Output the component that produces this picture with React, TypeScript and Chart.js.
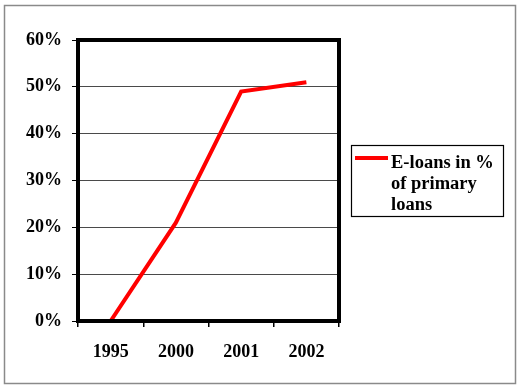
import React, { useEffect, useRef } from "react";
import { Chart, registerables } from "chart.js";

Chart.register(...registerables);

const categories: string[] = ["1995", "2000", "2001", "2002"];
const eLoans: number[] = [0, 21, 49, 51];
const seriesLabel = "E-loans in %";
const legendLines: string[] = ["E-loans in %", "of primary", "loans"];
const yMin = 0;
const yMax = 60;
const yStep = 10;

const FONT_FAMILY = "'Liberation Serif', 'Times New Roman', serif";
const FONT_SIZE = 18;
const LEGEND_FONT_SIZE = 18.5;

const framePlugin = {
  id: "framePlugin",
  beforeDraw(chart: any) {
    const ctx = chart.ctx;
    ctx.save();
    ctx.fillStyle = "#ffffff";
    ctx.fillRect(0, 0, chart.width, chart.height);
    ctx.strokeStyle = "#8a8a8a";
    ctx.lineWidth = 1.5;
    ctx.strokeRect(4.5, 5.5, 511, 378);
    ctx.restore();
  },
  afterDatasetsDraw(chart: any) {
    const ctx = chart.ctx;
    const a = chart.chartArea;
    ctx.save();
    ctx.strokeStyle = "#000000";
    ctx.lineWidth = 4;
    ctx.strokeRect(a.left, a.top, a.right - a.left, a.bottom - a.top);
    ctx.restore();
  },
  afterDraw(chart: any) {
    const ctx = chart.ctx;
    ctx.save();
    ctx.strokeStyle = "#000000";
    ctx.lineWidth = 1.2;
    ctx.strokeRect(351.5, 145.5, 152, 71);
    const ds = chart.data.datasets[0];
    ctx.strokeStyle = ds.borderColor;
    ctx.lineWidth = 4;
    ctx.beginPath();
    ctx.moveTo(355, 158);
    ctx.lineTo(388, 158);
    ctx.stroke();
    ctx.fillStyle = "#000000";
    ctx.font = `bold ${LEGEND_FONT_SIZE}px ${FONT_FAMILY}`;
    ctx.textBaseline = "middle";
    ctx.textAlign = "left";
    legendLines.forEach((t, i) => {
      ctx.fillText(t, 391, 163 + i * 21);
    });
    ctx.restore();
  },
};

export default function App() {
  const ref = useRef<HTMLCanvasElement | null>(null);
  useEffect(() => {
    if (!ref.current) return;
    const font = { family: FONT_FAMILY, size: FONT_SIZE, weight: "bold" as const };
    const chart = new Chart(ref.current, {
      type: "line",
      data: {
        labels: categories,
        datasets: [
          {
            label: seriesLabel,
            data: eLoans,
            borderColor: "#ff0000",
            borderWidth: 4,
            pointRadius: 0,
            tension: 0,
            fill: false,
          },
        ],
      },
      options: {
        animation: false,
        responsive: false,
        devicePixelRatio: 1,
        layout: { padding: { top: 40, right: 183, left: 0, bottom: 0 } },
        plugins: { legend: { display: false }, tooltip: { enabled: false } },
        scales: {
          x: {
            type: "category",
            offset: true,
            grid: {
              offset: true,
              drawOnChartArea: false,
              tickLength: 6,
              color: "#000000",
              lineWidth: 1.5,
            },
            border: { display: false },
            ticks: { font, color: "#000000", padding: 15, maxRotation: 0 },
            afterFit: (s: any) => {
              s.height = 67;
            },
          },
          y: {
            min: yMin,
            max: yMax,
            ticks: {
              stepSize: yStep,
              callback: (v: any) => `${v}%`,
              font,
              color: "#000000",
              padding: 10,
            },
            grid: { color: "#4a4a4a", tickColor: "#000000", tickLength: 6, lineWidth: 1 },
            border: { display: false },
            afterFit: (s: any) => {
              s.width = 78;
            },
          },
        },
      },
      plugins: [framePlugin],
    });
    return () => chart.destroy();
  }, []);
  return (
    <div style={{ position: "absolute", left: 0, top: 0, width: 522, height: 388 }}>
      <canvas ref={ref} width={522} height={388} style={{ display: "block", width: 522, height: 388 }} />
    </div>
  );
}
